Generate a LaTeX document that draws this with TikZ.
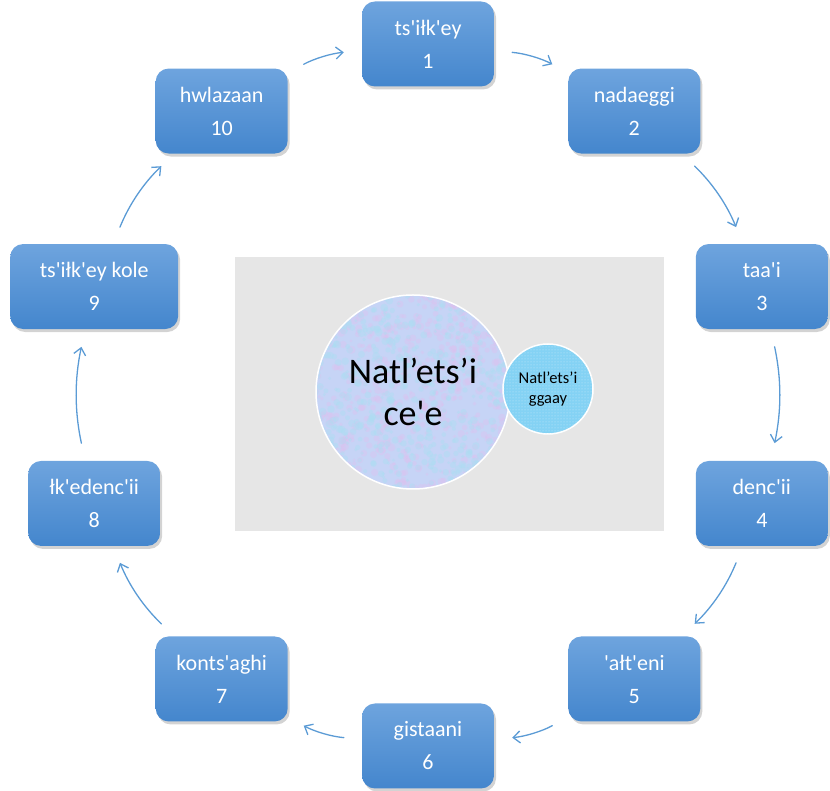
\documentclass[tikz,border=0pt]{standalone}
\usepackage{fontspec}
\setmainfont{Carlito}[Ligatures=TeXOff]
\usetikzlibrary{arrows.meta}
\usetikzlibrary{calc}
\usetikzlibrary{patterns}
\usetikzlibrary{shadows}
\definecolor{boxtop}{RGB}{110,164,222}
\definecolor{boxbottom}{RGB}{68,134,205}
\definecolor{ringblue}{RGB}{91,155,213}
\definecolor{panelgrey}{RGB}{230,230,230}
\definecolor{corefill}{RGB}{198,212,246}
\definecolor{corepink}{RGB}{224,190,238}
\definecolor{corecyan}{RGB}{170,222,242}
\definecolor{sidefill}{RGB}{132,210,244}

\begin{document}
\begin{tikzpicture}[x=1pt,y=1pt,line cap=round,line join=round,>={Straight Barb[length=7pt,width=12pt]},
  stage/.style={rounded corners=13pt,top color=boxtop,bottom color=boxbottom,text=white,align=center,
    minimum height=85pt,inner xsep=8pt,font=\fontsize{22}{33}\selectfont,
    drop shadow={shadow xshift=2pt,shadow yshift=-3pt,opacity=0.35}},
  ringarrow/.style={->,draw=ringblue,line width=1.3pt,shorten <=18pt,shorten >=18pt}]
\useasboundingbox (0,0) rectangle (830,791);
\coordinate (ctr) at (428,396);
% grey panel and the two circles
\fill[panelgrey] (235,260) rectangle (664,534);
\node[circle,fill=corefill,minimum size=194pt,inner sep=0pt] (core) at (413,399) {};
\begin{scope}
  \clip (core.center) circle (97);
  \pgfmathsetseed{7}
  \foreach \k in {1,...,600}
    \fill[corepink,opacity=0.35] ($(core.center)+(rand*100,rand*100)$) circle ({1.5+2.5*rnd});
  \foreach \k in {1,...,600}
    \fill[corecyan,opacity=0.4] ($(core.center)+(rand*100,rand*100)$) circle ({1.5+2.5*rnd});
\end{scope}
\draw[white,line width=1.5pt] (core.center) circle (97);
\node[align=center,font=\fontsize{36}{42}\selectfont] at (core.center) {Natl’ets’i\\ce'e};
\node[circle,draw=white,line width=1.5pt,fill=sidefill,minimum size=90pt,inner sep=0pt,align=center,
  font=\fontsize{16.5}{20}\selectfont,postaction={pattern=dots,pattern color=white!55!sidefill}] (side) at (548,402) {Natl’ets’i\\ggaay};
% the ten stages
\foreach \name/\boxw [count=\i] in {ts'iłk'ey/132,nadaeggi/132,taa'i/132,denc'ii/132,'ałt'eni/132,gistaani/132,
    konts'aghi/132,łk'edenc'ii/132,ts'iłk'ey kole/168,hwlazaan/132}
  \node[stage,minimum width=\boxw] (s\i) at ($(ctr)+({90-36*(\i-1)}:351)$) {\name\\\i};
\foreach \a/\b in {1/2,2/3,3/4,4/5,5/6,6/7,7/8,8/9,9/10,10/1}
  \draw[ringarrow] (s\a) to[bend left=12] (s\b);
\end{tikzpicture}
\end{document}
